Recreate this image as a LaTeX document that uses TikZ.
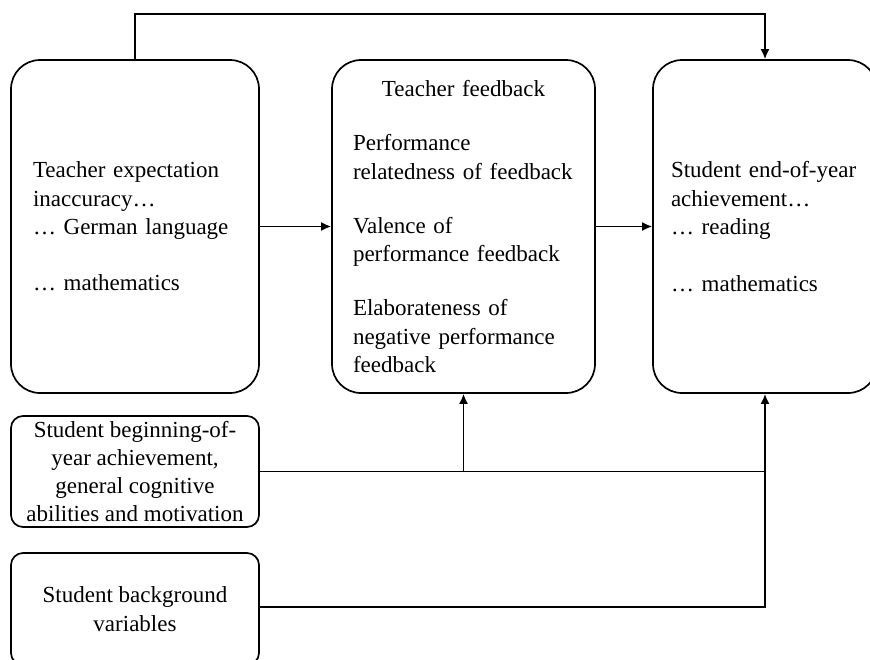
\documentclass[tikz,border=0pt]{standalone}
\usepackage{fontspec}
\setmainfont{Liberation Serif}
\usetikzlibrary{arrows.meta}

\begin{document}
\begin{tikzpicture}[x=1pt, y=-1pt, line width=1.7pt,
    txt/.style={font=\fontsize{23}{28.3}\selectfont},
    bigbox/.style={txt, draw, rounded corners=29pt, minimum height=333pt, inner ysep=0pt, align=left},
    smallbox/.style={txt, draw, rounded corners=12pt, minimum width=248pt, inner sep=0pt, align=center},
    arr/.style={-{Latex[length=10pt,width=9pt]}}]
  \useasboundingbox (0,0) rectangle (870,659);
  \clip (0,0) rectangle (870,659);

  % three main boxes
  \node[bigbox, inner xsep=22pt, text width=204pt] (inacc) at (135,226.5)
    {Teacher expectation\\ inaccuracy…\\ … German language\\[28.3pt] … mathematics};
  \node[bigbox, inner xsep=21pt, text width=221pt] (feedb) at (463.5,226.5)
    {\makebox[221pt]{Teacher feedback}\\[26pt]
     Performance\\ relatedness of feedback\\[26pt]
     Valence of\\ performance feedback\\[26pt]
     Elaborateness of\\ negative performance\\ feedback};
  \node[bigbox, inner xsep=18pt, text width=188pt] (achv) at (765,226.5)
    {Student end-of-year\\ achievement…\\ … reading\\[28.3pt] … mathematics};

  % covariates
  \node[smallbox, minimum height=111pt] (prior) at (135,471.5)
    {Student beginning-of-\\ year achievement,\\ general cognitive\\ abilities and motivation};
  \node[smallbox, minimum height=112pt] (backg) at (135,609)
    {Student background\\ variables};

  \coordinate (top) at (0,14);
  \coordinate (join) at (prior.east -| achv.south);

  \draw[arr] (inacc.north) -- (inacc.north |- top) -| (achv.north);
  \draw[arr] (inacc.east |- feedb.west) -- (feedb.west);
  \draw[arr] (feedb.east) -- (achv.west);

  \draw (prior.east) -- (join);
  \draw[arr] (prior.east -| feedb.south) -- (feedb.south);
  \draw[arr] (join) -- (achv.south);
  \draw (backg.east |- 0,607) -| (join);
\end{tikzpicture}
\end{document}
